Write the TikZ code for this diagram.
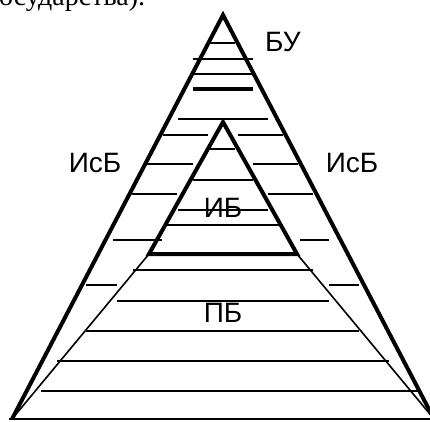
\documentclass[tikz,border=0pt]{standalone}
\usepackage{fontspec}
\setmainfont{Liberation Serif}
\newfontfamily\labelfont{Liberation Sans}
\begin{document}
\begin{tikzpicture}[x=1pt,y=-1pt,
  thickline/.style={line width=4pt,line join=miter},
  thinline/.style={line width=1.6pt},
  hatch/.style={line width=1.5pt},
  hatchthick/.style={line width=4pt},
  lbl/.style={font=\labelfont\fontsize{28}{30}\selectfont,inner sep=0pt}]
\useasboundingbox (0,0) rectangle (430,421);
\clip (0,0) rectangle (430,421);
% cropped caption text
\node[anchor=base west,inner sep=0pt,font=\fontsize{28}{30}\selectfont] (cap) at (-1,5) {осударства).};
% coordinates
\coordinate (A) at (223,15);
\coordinate (L) at (12,419);
\coordinate (R) at (434,419);
\coordinate (IA) at (223,122);
\coordinate (IL) at (149,254);
\coordinate (IR) at (297,254);
% hatching lines
\foreach \y/\a/\b in {43/210/235, 59/193/253, 74/193/252, 119/178/268,
  135/163/208, 135/238/283, 149/210/235, 164/147/193, 164/253/298,
  180/193/253, 194/132/177, 194/268/313, 210/178/268, 225/165/280,
  240/113/162, 240/300/329, 270/133/313, 285/86/117, 285/329/359,
  301/117/329, 331/86/359, 361/57/389, 391/41/418}
  \draw[hatch] (\a,\y) -- (\b,\y);
\draw[hatchthick] (193,89) -- (253,89);
% base
\draw[thinline] (9,419) -- (434,419);
% PB thin sides
\draw[thinline] (IL) -- (L);
\draw[thinline] (IR) -- (R);
% outer thick triangle
\draw[thickline] (L) -- (A) -- (R);
% inner IB triangle
\draw[thickline] (IL) -- (IA) -- (IR) -- cycle;
% labels
\node[lbl] (bu) at (283,42) {БУ};
\node[lbl] (isbl) at (95,163) {ИсБ};
\node[lbl] (isbr) at (352,163) {ИсБ};
\node[lbl] (ib) at (223,208) {ИБ};
\node[lbl] (pb) at (223,313) {ПБ};
\end{tikzpicture}
\end{document}
